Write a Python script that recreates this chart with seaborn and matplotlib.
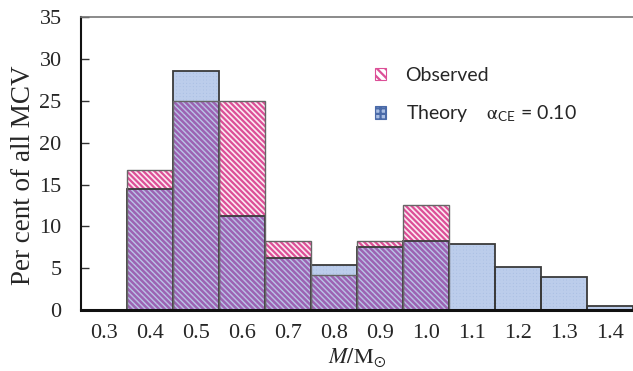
import matplotlib
matplotlib.use("Agg")
import matplotlib.pyplot as plt
import seaborn as sns
import pandas as pd
from matplotlib.patches import Patch

# ---- data ----
mass_bins = ["0.3", "0.4", "0.5", "0.6", "0.7", "0.8", "0.9", "1.0", "1.1", "1.2", "1.3", "1.4"]
observed = [0.0, 16.7, 25.0, 25.0, 8.3, 4.2, 8.3, 12.5, 0.0, 0.0, 0.0, 0.0]
theory = [0.0, 14.5, 28.5, 11.3, 6.2, 5.4, 7.6, 8.3, 7.9, 5.1, 3.9, 0.5]
y_ticks = [0, 5, 10, 15, 20, 25, 30, 35]

df = pd.DataFrame({"bin": mass_bins, "Observed": observed, "Theory": theory})
df["Overlap"] = df[["Observed", "Theory"]].min(axis=1)

sns.set_style("white")
plt.rcParams["font.family"] = ["Liberation Serif", "DejaVu Serif"]
plt.rcParams["mathtext.fontset"] = "stix"
plt.rcParams["hatch.linewidth"] = 1.6

fig = plt.figure(figsize=(6.33, 3.71), dpi=100)
ax = fig.add_axes([0.128, 0.164, 0.872, 0.79])

blue_fill = "#a9bee3"
blue_hatch = "#bccdeb"
pink = "#dc4f97"
pink_face = "#fbe9f1"
purple = "#9a64b4"
edge = "#3a3a3a"

# observed background (light pink)
sns.barplot(data=df, x="bin", y="Observed", order=mass_bins, width=1.0,
            color=pink_face, saturation=1, linewidth=0, ax=ax)
# theory fill with light grid
sns.barplot(data=df, x="bin", y="Theory", order=mass_bins, width=1.0,
            color=blue_fill, saturation=1, edgecolor=blue_hatch, linewidth=0,
            hatch="+++++", ax=ax)
# observed hatch (pink)
sns.barplot(data=df, x="bin", y="Observed", order=mass_bins, width=1.0,
            facecolor="none", edgecolor=pink, linewidth=0, hatch="\\" * 6, ax=ax)
# overlapping part looks purple
sns.barplot(data=df, x="bin", y="Overlap", order=mass_bins, width=1.0,
            facecolor=(0.66, 0.68, 0.88, 0.35), edgecolor=purple, linewidth=0,
            hatch="\\" * 6, ax=ax)
# outlines
sns.barplot(data=df, x="bin", y="Theory", order=mass_bins, width=1.0,
            facecolor="none", edgecolor=edge, linewidth=1.3, ax=ax)
sns.barplot(data=df, x="bin", y="Observed", order=mass_bins, width=1.0,
            facecolor="none", edgecolor="#666666", linewidth=1.0, ax=ax)

ax.set_xlim(-0.5, len(mass_bins) - 0.5)
ax.set_ylim(0, 35)
ax.set_yticks(y_ticks)
ax.set_yticklabels([str(v) for v in y_ticks])
ax.tick_params(axis="y", direction="in", length=6, width=1, color="#333333",
               labelsize=16, pad=14, left=True)
ax.tick_params(axis="x", length=0, labelsize=16, pad=10)

ax.spines["left"].set_color("#111111")
ax.spines["left"].set_linewidth(1.5)
ax.spines["bottom"].set_color("#111111")
ax.spines["bottom"].set_linewidth(2.2)
ax.spines["top"].set_color("#777777")
ax.spines["top"].set_linewidth(1.2)
ax.spines["right"].set_visible(False)

ax.set_ylabel("Per cent of all MCV", fontsize=19.5)
ax.yaxis.set_label_coords(-0.082, 0.46)
ax.set_xlabel(r"$\mathit{M}/\mathrm{M}_{\odot}$", fontsize=16, labelpad=2)

handles = [
    Patch(facecolor="white", edgecolor=pink, hatch="\\\\\\\\", linewidth=0.8),
    Patch(facecolor=blue_fill, edgecolor="#4a6aa8", hatch="+++", linewidth=0.8),
]
labels = ["Observed", r"Theory    $\mathrm{\alpha}_{\mathregular{CE}}$ = 0.10"]
leg = ax.legend(handles, labels, loc="upper left", bbox_to_anchor=(0.5, 0.89),
                frameon=False, prop={"family": ["Lato", "DejaVu Sans"], "size": 14},
                handlelength=0.6, handleheight=0.6, handletextpad=1.0,
                labelspacing=1.0)

fig.savefig("out.png", dpi=100)
